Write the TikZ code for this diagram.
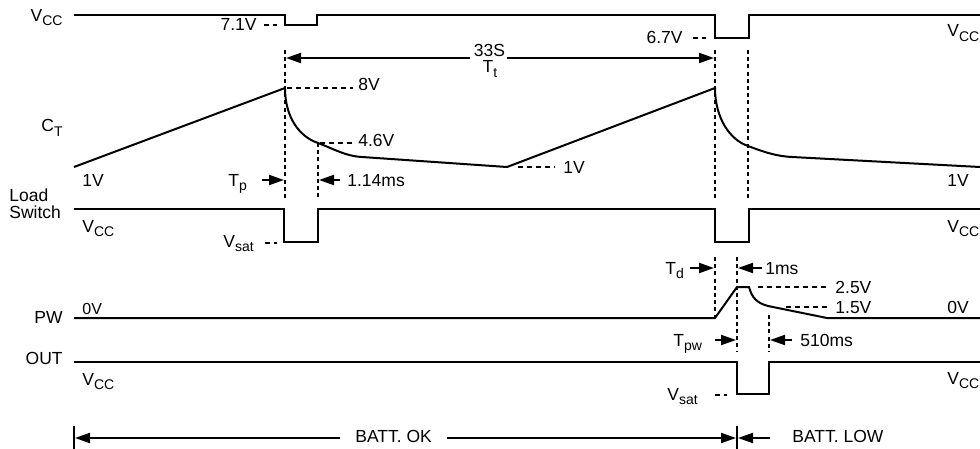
\documentclass[tikz,border=0pt]{standalone}
\usepackage{fontspec}
\setmainfont{Liberation Sans}
\usetikzlibrary{arrows.meta}
\newcommand\sbs[1]{\raisebox{-2.2pt}{\fontsize{7}{8}\selectfont #1}}
\begin{document}
\begin{tikzpicture}[x=0.5pt,y=-0.5pt,
  sig/.style={line width=1pt, line join=miter},
  vdash/.style={line width=0.8pt, dash pattern=on 2pt off 1.6pt},
  hdash/.style={line width=0.8pt, dash pattern=on 2.5pt off 2pt},
  lbl/.style={inner sep=0pt, font=\fontsize{8.75}{10.5}\selectfont},
  dim/.style={line width=1pt, -{Triangle[length=7.5pt,width=5pt]}},
]
\useasboundingbox (0,0) rectangle (980,449);
% signals
\draw[sig] (74,15) -- (285,15) -- (285,25) -- (317,25) -- (317,15) -- (715,15) -- (715,38) -- (749,38) -- (749,15) -- (980,15);
\draw[sig] (74,167) -- (285,88) .. controls (285,118) and (300,137) .. (318,143) .. controls (334,149) and (345,156) .. (362,157) -- (507,167) -- (715,88) .. controls (715,118) and (730,140) .. (748,146) .. controls (764,152) and (775,156) .. (792,157) -- (980,167);
\draw[sig] (74,209) -- (284,209) -- (284,242) -- (318,242) -- (318,209) -- (715,209) -- (715,242) -- (749,242) -- (749,209) -- (980,209);
\draw[sig] (74,318) -- (715,318) -- (737,287) -- (749,287) .. controls (752,298) and (757,303) .. (768,306) -- (827,318) -- (980,318);
\draw[sig] (74,362) -- (737,362) -- (737,394) -- (769,394) -- (769,362) -- (980,362);
% vertical dashed
\draw[vdash] (285,50) -- (285,198);
\draw[vdash] (318,143) -- (318,198);
\draw[vdash] (715,50) -- (715,198);
\draw[vdash] (748,50) -- (748,198);
\draw[vdash] (715,257) -- (715,318);
\draw[vdash] (737,257) -- (737,352);
\draw[vdash] (769,315) -- (769,352);
% horizontal dashed
\draw[hdash] (287,88) -- (353,88);
\draw[hdash] (320,143) -- (353,143);
\draw[hdash] (518,167) -- (555,167);
\draw[hdash] (264,25) -- (277,25);
\draw[hdash] (693,38) -- (706,38);
\draw[hdash] (265,243) -- (277,243);
\draw[hdash] (758,287) -- (827,287);
\draw[hdash] (786,307) -- (827,307);
\draw[hdash] (715,395) -- (727,395);
% dimension arrows
\draw[dim] (262,180) -- (284,180);
\draw[dim] (340,180) -- (319,180);
\draw[dim] (690,268) -- (714,268);
\draw[dim] (762,268) -- (738,268);
\draw[dim] (715,340) -- (736,340);
\draw[dim] (792,340) -- (770,340);
\draw[dim] (470,58) -- (286,58);
\draw[dim] (507,58) -- (714,58);
\draw[dim] (340,438) -- (75,438);
\draw[dim] (447,438) -- (736,438);
\draw[dim] (770,438) -- (738,438);
\draw[line width=1pt] (74,426) -- (74,449);
\draw[line width=1pt] (737,426) -- (737,449);
% labels
\node[lbl, anchor=base east] (vcc1) at (63,21.5) {V\sbs{CC}};
\node[lbl, anchor=base east] (v71) at (257,31) {7.1V};
\node[lbl, anchor=base east] (v67) at (683,44) {6.7V};
\node[lbl, anchor=base west] (vcc2) at (947,37) {V\sbs{CC}};
\node[lbl, anchor=base] (t33) at (489.5,57) {33S};
\node[lbl, anchor=base] (tt) at (490,73) {T\sbs{t}};
\node[lbl, anchor=base west] (v8) at (358,91) {8V};
\node[lbl, anchor=base east] (ct) at (63,132) {C\sbs{T}};
\node[lbl, anchor=base west] (v46) at (358,147) {4.6V};
\node[lbl, anchor=base west] (v1a) at (82,186) {1V};
\node[lbl, anchor=base west] (tp) at (228,186) {T\sbs{p}};
\node[lbl, anchor=base west] (ms114) at (347,186) {1.14ms};
\node[lbl, anchor=base west] (v1b) at (563,173) {1V};
\node[lbl, anchor=base west] (v1c) at (947,186) {1V};
\node[lbl, anchor=base west] (load) at (9,201) {Load};
\node[lbl, anchor=base west] (switch) at (9,218) {Switch};
\node[lbl, anchor=base west] (vcc3) at (82,232) {V\sbs{CC}};
\node[lbl, anchor=base west] (vsat1) at (223,247) {V\sbs{sat}};
\node[lbl, anchor=base west] (vcc4) at (947,232) {V\sbs{CC}};
\node[lbl, anchor=base west] (td) at (665,274) {T\sbs{d}};
\node[lbl, anchor=base west] (ms1) at (765,274) {1ms};
\node[lbl, anchor=base west] (v25) at (835,293) {2.5V};
\node[lbl, anchor=base west] (v15) at (835,313) {1.5V};
\node[lbl, anchor=base west, font=\fontsize{8}{9.6}\selectfont] (v0a) at (82,314) {0V};
\node[lbl, anchor=base west] (v0b) at (947,313) {0V};
\node[lbl, anchor=base east] (pw) at (63,323) {PW};
\node[lbl, anchor=base west] (tpw) at (673,346) {T\sbs{pw}};
\node[lbl, anchor=base west] (ms510) at (800,346) {510ms};
\node[lbl, anchor=base east] (out) at (63,364) {OUT};
\node[lbl, anchor=base west] (vcc5) at (82,385) {V\sbs{CC}};
\node[lbl, anchor=base west] (vcc6) at (947,384) {V\sbs{CC}};
\node[lbl, anchor=base west] (vsat2) at (667,400) {V\sbs{sat}};
\node[lbl, anchor=base west] (ok) at (355,442) {BATT. OK};
\node[lbl, anchor=base west] (low) at (792,442) {BATT. LOW};
\end{tikzpicture}
\end{document}
